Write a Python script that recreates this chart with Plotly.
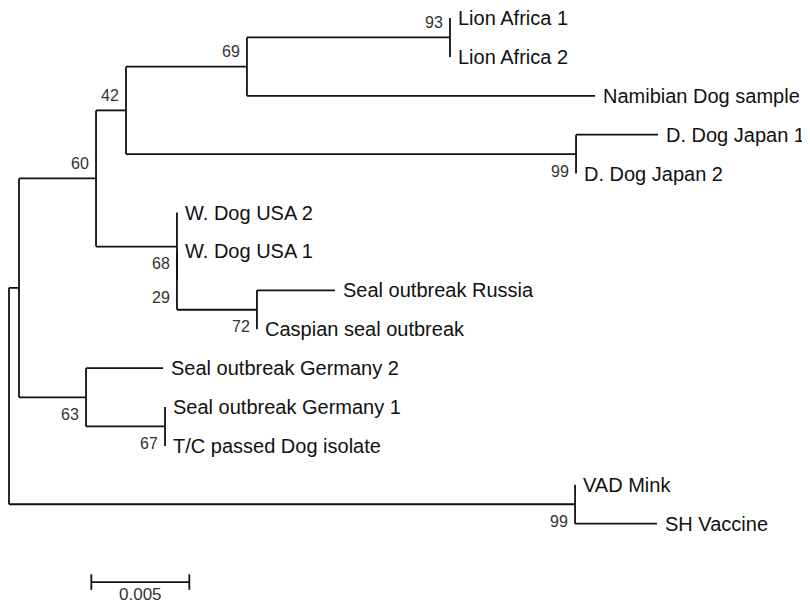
import plotly.graph_objects as go

# ---- data ----
tip_order = [
    "Lion Africa 1", "Lion Africa 2", "Namibian Dog sample",
    "D. Dog Japan 1", "D. Dog Japan 2",
    "W. Dog USA 2", "W. Dog USA 1",
    "Seal outbreak Russia", "Caspian seal outbreak",
    "Seal outbreak Germany 2", "Seal outbreak Germany 1", "T/C passed Dog isolate",
    "VAD Mink", "SH Vaccine",
]
edge_parent = ["root", "A", "B", "C", "D", "Lion", "Lion", "D", "C", "Japan", "Japan",
               "B", "WD", "WD", "N29", "N29", "Seal", "Seal",
               "A", "Ger", "Ger", "GT", "GT",
               "root", "Mink", "Mink"]
edge_child = ["A", "B", "C", "D", "Lion", "Lion Africa 1", "Lion Africa 2", "Namibian Dog sample",
              "Japan", "D. Dog Japan 1", "D. Dog Japan 2",
              "WD", "W. Dog USA 2", "N29", "W. Dog USA 1", "Seal", "Seal outbreak Russia", "Caspian seal outbreak",
              "Ger", "Seal outbreak Germany 2", "GT", "Seal outbreak Germany 1", "T/C passed Dog isolate",
              "Mink", "VAD Mink", "SH Vaccine"]
edge_length = [0.00051, 0.00393, 0.00153, 0.00617, 0.01036, 0.0, 0.0, 0.01776,
               0.02296, 0.00418, 0.0,
               0.00413, 0.0, 0.0, 0.0, 0.00408, 0.00398, 0.0,
               0.00342, 0.00393, 0.00403, 0.0, 0.0,
               0.02888, 0.0, 0.00418]
boot_node = ["Lion", "D", "C", "B", "Japan", "WD", "N29", "Seal", "Ger", "GT", "Mink"]
boot_value = ["93", "69", "42", "60", "99", "68", "29", "72", "63", "67", "99"]
boot_side = ["above", "above", "above", "above", "below", "below", "below", "below", "below", "below", "below"]
scale_length = 0.005
scale_label = "0.005"

# ---- layout of tree ----
children = {}
blen = {}
for p, c, l in zip(edge_parent, edge_child, edge_length):
    children.setdefault(p, []).append(c)
    blen[c] = l

xpos, ypos = {}, {}


def place_x(n, x):
    xpos[n] = x
    for c in children.get(n, []):
        place_x(c, x + blen[c])


def place_y(n):
    if n not in children:
        ypos[n] = tip_order.index(n)
        return ypos[n]
    ys = [place_y(c) for c in children[n]]
    ypos[n] = (ys[0] + ys[-1]) / 2
    return ypos[n]


place_x("root", 0.0)
place_y("root")

lx, ly = [], []
for n, ch in children.items():
    lx += [xpos[n], xpos[n], None]
    ly += [ypos[ch[0]], ypos[ch[-1]], None]
    for c in ch:
        if blen[c] > 0:
            lx += [xpos[n], xpos[c], None]
            ly += [ypos[c], ypos[c], None]

LINE = dict(color="#111111", width=1.8)
fig = go.Figure()
fig.add_trace(go.Scatter(x=lx, y=ly, mode="lines", line=LINE, hoverinfo="skip", showlegend=False))

# scale bar
sb_x0 = 0.0042
sb_y = 14.5
fig.add_trace(go.Scatter(
    x=[sb_x0, sb_x0 + scale_length, None, sb_x0, sb_x0, None, sb_x0 + scale_length, sb_x0 + scale_length],
    y=[sb_y, sb_y, None, sb_y - 0.2, sb_y + 0.2, None, sb_y - 0.2, sb_y + 0.2],
    mode="lines", line=LINE, hoverinfo="skip", showlegend=False))

LEAF_FONT = dict(family="Liberation Sans, Arial", size=20, color="#111111")
NUM_FONT = dict(family="Liberation Sans, Arial", size=16, color="#333333")
annotations = []
for t in tip_order:
    annotations.append(dict(x=xpos[t], y=ypos[t], text=t, showarrow=False, xanchor="left",
                            yanchor="middle", xshift=6, font=LEAF_FONT))
for n, v, s in zip(boot_node, boot_value, boot_side):
    annotations.append(dict(x=xpos[n], y=ypos[n], text=v, showarrow=False, xanchor="right",
                            yanchor="middle", xshift=-5, yshift=15 if s == "above" else -17,
                            font=NUM_FONT))
annotations.append(dict(x=sb_x0 + scale_length / 2, y=sb_y, text=scale_label, showarrow=False,
                        xanchor="center", yanchor="middle", yshift=-12,
                        font=dict(family="Liberation Sans, Arial", size=17, color="#333333")))

# page body has an 8 px margin, so plot pixels are offset by 8
px_per_unit = 19600.0
x0_px = 1.0
row0_px = 10.0
row_px = 38.9
fig.update_layout(
    width=810, height=612, margin=dict(l=0, r=0, t=0, b=0),
    paper_bgcolor="white", plot_bgcolor="white",
    xaxis=dict(range=[-x0_px / px_per_unit, (810 - x0_px) / px_per_unit], visible=False, fixedrange=True),
    yaxis=dict(range=[(612 - row0_px) / row_px, -row0_px / row_px], visible=False, fixedrange=True),
    annotations=annotations,
)
fig.write_html("out.html")
